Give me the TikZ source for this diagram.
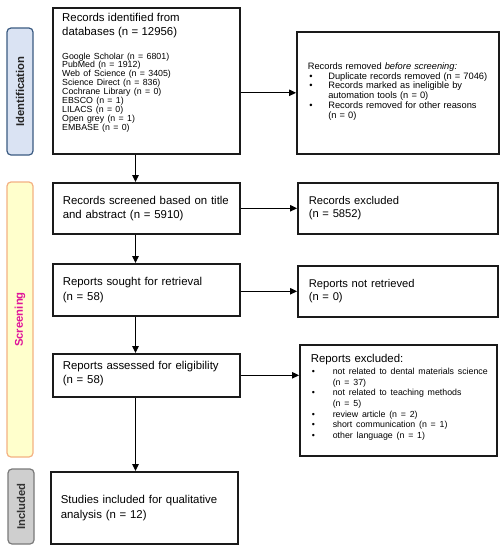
\documentclass[tikz,border=0pt]{standalone}
\usepackage{fontspec}
\setmainfont{Liberation Sans}
\usetikzlibrary{arrows.meta}
\setlength{\lineskiplimit}{-6pt}
\definecolor{idfill}{HTML}{DAE3F3}
\definecolor{iddraw}{HTML}{3B5B82}
\definecolor{scfill}{HTML}{FFFFCC}
\definecolor{scdraw}{HTML}{F4B183}
\definecolor{sctext}{HTML}{E0149A}
\definecolor{infill}{HTML}{CFCFCF}
\definecolor{indraw}{HTML}{7A7A7A}
\definecolor{intext}{HTML}{333333}
\definecolor{boxline}{HTML}{1A1A1A}
\newcommand{\fsBig}{\fontsize{11.4}{14.5}\selectfont}
\newcommand{\fsSmall}{\fontsize{8.8}{8.9}\selectfont}
\newcommand{\fsRone}{\fontsize{9.3}{9.8}\selectfont}
\newcommand{\fsMid}{\fontsize{11.2}{12.5}\selectfont}
\newcommand{\fsItems}{\fontsize{8.8}{10.6}\selectfont}
\newcommand{\bitemA}[1]{\makebox[20.5pt][l]{\hspace{1.5pt}\textbullet}\mbox{#1}}
\newcommand{\bcontA}[1]{\hspace*{20.5pt}\mbox{#1}}
\newcommand{\bitemB}[1]{\makebox[22pt][l]{\hspace{1pt}\textbullet}\mbox{#1}}
\newcommand{\bcontB}[1]{\hspace*{22pt}\mbox{#1}}
\begin{document}
\begin{tikzpicture}[x=1pt,y=-1pt,
  frame/.style={draw=boxline, line width=1.6pt, anchor=north west, inner xsep=10pt, inner ysep=0pt, align=left, font=\fsBig},
  rframe/.style={frame, inner xsep=11pt},
  side/.style={rounded corners=4pt, line width=1.2pt, rotate=90, minimum height=26pt, inner sep=0pt, font=\fontsize{11.3}{12}\selectfont\bfseries},
  arr/.style={draw=black, line width=1.2pt, -{Triangle[length=7pt,width=6.5pt]}}
]
\useasboundingbox (0,0) rectangle (504,550);
\fill[white] (0,0) rectangle (504,550);

% phase labels
\node[side, draw=iddraw, fill=idfill, text=black!85, minimum width=127pt] (sid) at (20,91.5) {Identification};
\node[side, draw=scdraw, fill=scfill, text=sctext, minimum width=275pt] (ssc) at (20,319.5) {Screening};
\node[side, draw=indraw, fill=infill, text=intext, minimum width=75pt] (sin) at (21,506.5) {Included};

% left column
\node[frame, minimum width=187pt, minimum height=146pt] (b1) at (52,7) {};
\node[anchor=north west, inner sep=0pt, text width=172pt, align=left] (b1t) at (62,13)
  {\fsBig Records identified from\\databases (n = 12956)\par\vspace{14.2pt}%
   \fsSmall Google Scholar (n = 6801)\\PubMed (n = 1912)\\Web of Science (n = 3405)\\Science Direct (n = 836)\\Cochrane Library (n = 0)\\EBSCO (n = 1)\\LILACS (n = 0)\\Open grey (n = 1)\\EMBASE (n = 0)\par};

\node[frame, minimum width=187pt, minimum height=51pt, text width=167pt] (b2) at (52,182)
  {Records screened based on title\\and abstract (n = 5910)};
\node[frame, minimum width=187pt, minimum height=52pt, text width=167pt] (b3) at (52,263)
  {Reports sought for retrieval\\(n = 58)};
\node[frame, minimum width=187pt, minimum height=43pt, text width=167pt] (b4) at (52,353)
  {Reports assessed for eligibility\\(n = 58)\\[-8.5pt]\mbox{}};
\node[frame, minimum width=187pt, minimum height=72pt, text width=167pt] (b5) at (50,471)
  {Studies included for qualitative\\analysis (n = 12)};

% right column
\node[rframe, minimum width=202pt, minimum height=122pt, text width=180pt, font=\fsRone] (r1) at (296,31)
  {Records removed \textit{before screening:}\\
   \bitemA{Duplicate records removed (n = 7046)}\\
   \bitemA{Records marked as ineligible by}\\
   \bcontA{automation tools (n = 0)}\\
   \bitemA{Records removed for other reasons}\\
   \bcontA{(n = 0)}\\[-5pt]\mbox{}};
\node[rframe, minimum width=200pt, minimum height=51pt, text width=178pt, font=\fsMid] (r2) at (297,182)
  {Records excluded\\(n = 5852)};
\node[rframe, minimum width=200pt, minimum height=51pt, text width=178pt, font=\fsMid] (r3) at (297,265)
  {Reports not retrieved\\(n = 0)};
\node[rframe, minimum width=197pt, minimum height=111pt, text width=175pt] (r4) at (299,344)
  {\fsBig Reports excluded:\par\vspace{1.4pt}%
   \fsItems\bitemB{not related to dental materials science}\\
   \bcontB{(n = 37)}\\
   \bitemB{not related to teaching methods}\\
   \bcontB{(n = 5)}\\
   \bitemB{review article (n = 2)}\\
   \bitemB{short communication (n = 1)}\\
   \bitemB{other language (n = 1)}\\[-2.6pt]\mbox{}\par};

% connectors
\coordinate (vx) at (135.5,0);
\draw[arr] (b1.south -| vx) -- (b2.north -| vx);
\draw[arr] (b2.south -| vx) -- (b3.north -| vx);
\draw[arr] (b3.south -| vx) -- (b4.north -| vx);
\draw[arr] (b4.south -| vx) -- (b5.north -| vx);
\draw[arr] (r1.west -| b1.east) -- (r1.west);
\draw[arr] (b2.east) -- (b2.east -| r2.west);
\draw[arr] (r3.west -| b3.east) -- (r3.west);
\draw[arr] (b4.east) -- (b4.east -| r4.west);
\end{tikzpicture}
\end{document}
